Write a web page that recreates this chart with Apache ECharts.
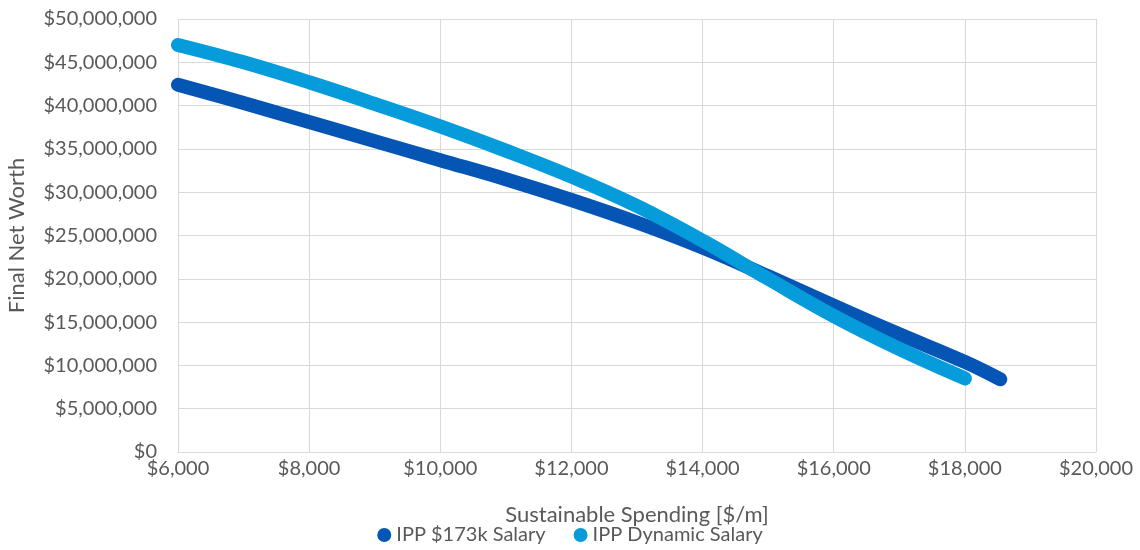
<!DOCTYPE html>
<html><head><meta charset="utf-8">
<script src="https://cdn.jsdelivr.net/npm/echarts@6/dist/echarts.min.js"></script>
<style>html,body{margin:0;padding:0;background:#fff}#c{width:1140px;height:550px}</style>
</head><body><div id="c"></div>
<script>
const seriesNames = ['IPP $173k Salary', 'IPP Dynamic Salary'];
const salaryX = [6000, 7000, 8000, 9000, 10000, 11000, 12000, 13000, 14000, 15000, 16000, 17000, 18000, 18540];
const salaryY = [42.4, 40.3, 38.1, 35.9, 33.7, 31.5, 29.1, 26.5, 23.6, 20.3, 16.9, 13.6, 10.4, 8.4];
const dynamicX = [6000, 7000, 8000, 9000, 10000, 11000, 12000, 13000, 14000, 15000, 16000, 17000, 18000];
const dynamicY = [47.0, 45.0, 42.7, 40.2, 37.6, 34.8, 31.8, 28.4, 24.4, 20.0, 15.7, 11.9, 8.5];
const colors = ['#0555B5', '#069CDB'];
const font = 'Lato, sans-serif';
function pairs(xs, ys){ return xs.map((x,i)=>[x, ys[i]*1e6]); }
function money(v){ return '$' + Math.round(v).toLocaleString('en-US'); }
const chart = echarts.init(document.getElementById('c'));
chart.setOption({
  animation:false,
  color: colors,
  grid:{left:178, right:44, top:19, bottom:98, outerBoundsMode:'none'},
  xAxis:{type:'value', min:6000, max:20000, interval:2000,
    name:'Sustainable Spending [$/m]', nameLocation:'middle', nameGap:52,
    nameTextStyle:{fontFamily:font, fontSize:22, color:'#595959'},
    axisLabel:{formatter:money, fontFamily:font, fontSize:20, color:'#595959', margin:7},
    axisLine:{show:true, lineStyle:{color:'#d9d9d9'}}, axisTick:{show:false},
    splitLine:{show:true, lineStyle:{color:'#d9d9d9', width:1}}},
  yAxis:{type:'value', min:0, max:50000000, interval:5000000,
    name:'Final Net Worth', nameLocation:'middle', nameGap:150, nameRotate:90,
    nameTextStyle:{fontFamily:font, fontSize:22, color:'#595959'},
    axisLabel:{formatter:money, fontFamily:font, fontSize:20, color:'#595959', margin:21},
    axisLine:{show:false}, axisTick:{show:false},
    splitLine:{show:true, lineStyle:{color:'#d9d9d9', width:1}}},
  legend:{bottom:0, left:'center', icon:'circle', itemWidth:14, itemHeight:14, itemGap:28,
    textStyle:{fontFamily:font, fontSize:20, color:'#595959'}, data:seriesNames},
  series:[
    {name:seriesNames[0], type:'line', data:pairs(salaryX, salaryY), smooth:0.4, showSymbol:false, symbol:'circle',
      lineStyle:{width:14, cap:'round', join:'round', color:colors[0]}, itemStyle:{color:colors[0]}},
    {name:seriesNames[1], type:'line', data:pairs(dynamicX, dynamicY), smooth:0.4, showSymbol:false, symbol:'circle',
      lineStyle:{width:14, cap:'round', join:'round', color:colors[1]}, itemStyle:{color:colors[1]}}
  ]
});
</script></body></html>
